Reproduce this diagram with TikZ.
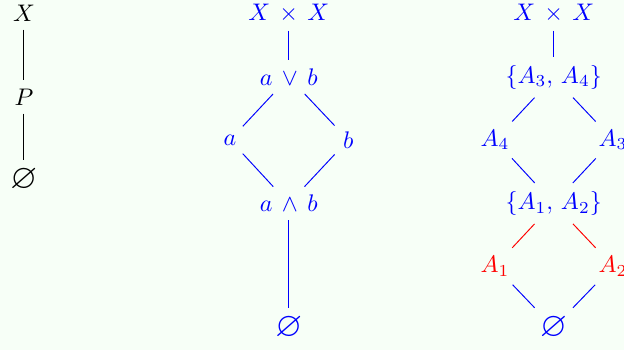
\documentclass[tikz,border=0pt]{standalone}
\usepackage{amsmath}
\usepackage{amssymb}
\usepackage{tikz}
\usetikzlibrary{positioning,calc}
\definecolor{bgmint}{RGB}{247,255,247}

\begin{document}
\begin{tikzpicture}[
            lat/.style={draw=none, fill=none, text=blue},
            hot/.style={draw=none, fill=none, text=red},
            nil/.style={font=\Large},
            ln/.style={blue},
            hotln/.style={red}
        ]

% --- frame ---
            \useasboundingbox (0,0) rectangle (9.14,5.13);
            \fill[bgmint] (0,0) rectangle (9.14,5.13);

% --- left chain ---
            \node (x0) at (0.35,4.94) {$X$};
            \node (p0) at (0.35,3.71) {$P$};
            \node[nil] (e0) at (0.35,2.50) {$\varnothing$};

            \draw (x0)--(p0);
            \draw (p0)--(e0);

% --- middle lattice ---
            \node[lat] (top1) at (4.23,4.94) {$X \,\times\, X$};
            \node[lat] (join) at (4.23,4.00) {$a \,\vee\, b$};
            \node[lat] (a) at (3.37,3.08) {$a$};
            \node[lat] (b) at (5.10,3.08) {$b$};
            \node[lat] (meet) at (4.23,2.15) {$a \,\wedge\, b$};
            \node[lat, nil] (bot1) at (4.23,0.33) {$\varnothing$};

            \draw[ln] (top1)--(join);
            \draw[ln] (join)--(a);
            \draw[ln] (join)--(b);
            \draw[ln] (a)--(meet);
            \draw[ln] (b)--(meet);
            \draw[ln] (meet)--(bot1);

% --- right lattice ---
            \node[lat] (top2) at (8.11,4.94) {$X \,\times\, X$};
            \node[lat] (s34) at (8.11,4.00) {$\{A_3,\, A_4\}$};
            \node[lat] (a4) at (7.25,3.08) {$A_4$};
            \node[lat] (a3) at (8.98,3.08) {$A_3$};
            \node[lat] (s12) at (8.11,2.15) {$\{A_1,\, A_2\}$};
            \node[hot] (a1) at (7.25,1.23) {$A_1$};
            \node[hot] (a2) at (8.98,1.23) {$A_2$};
            \node[lat, nil] (bot2) at (8.11,0.33) {$\varnothing$};

            \draw[ln] (top2)--(s34);
            \draw[ln] (s34)--(a4);
            \draw[ln] (s34)--(a3);
            \draw[ln] (a4)--(s12);
            \draw[ln] (a3)--(s12);
            \draw[hotln] (s12)--(a1);
            \draw[hotln] (s12)--(a2);
            \draw[ln] (a1)--(bot2);
            \draw[ln] (a2)--(bot2);

        \end{tikzpicture}
\end{document}
